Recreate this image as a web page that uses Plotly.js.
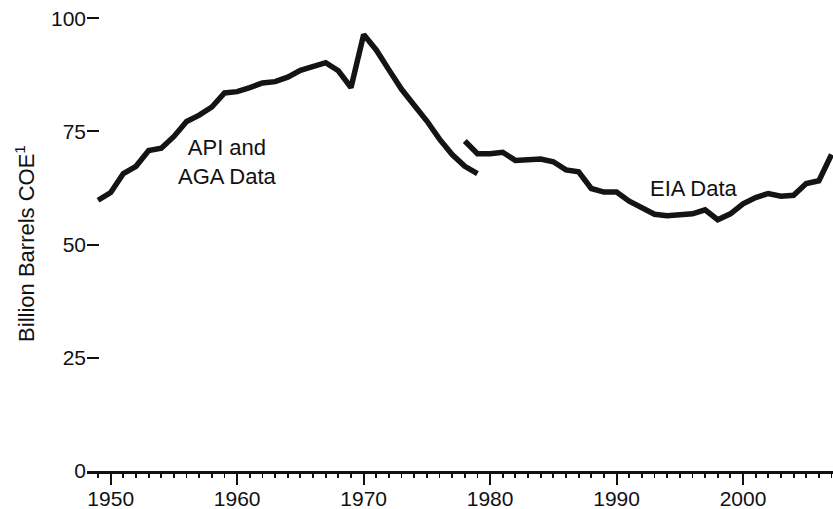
<!DOCTYPE html>
<html>
<head>
<meta charset="utf-8">
<script src="https://cdn.plot.ly/plotly-3.0.1.min.js"></script>
<style>
html,body{margin:0;padding:0;background:#fff;}
#chart{width:833px;height:509px;}
</style>
</head>
<body>
<div id="chart"></div>
<script>
// API and AGA data (billion barrels COE)
const apiYears = [1949,1950,1951,1952,1953,1954,1955,1956,1957,1958,1959,1960,1961,1962,1963,1964,1965,1966,1967,1968,1969,1970,1971,1972,1973,1974,1975,1976,1977,1978,1979];
const apiValues = [59.8,61.5,65.7,67.3,70.8,71.3,73.9,77.2,78.6,80.4,83.5,83.8,84.7,85.7,86.0,87.0,88.5,89.3,90.2,88.4,84.7,96.4,93.0,88.6,84.3,80.8,77.3,73.3,69.9,67.3,65.7];
// EIA data
const eiaYears = [1978,1979,1980,1981,1982,1983,1984,1985,1986,1987,1988,1989,1990,1991,1992,1993,1994,1995,1996,1997,1998,1999,2000,2001,2002,2003,2004,2005,2006,2007];
const eiaValues = [72.9,70.1,70.1,70.4,68.6,68.9,68.9,68.3,66.5,66.1,62.4,61.6,61.6,59.6,58.3,56.7,56.4,56.6,56.8,57.7,55.5,56.8,59.0,60.4,61.3,60.7,60.9,63.5,64.1,69.9];
const yTicks = [0,25,50,75,100];
const yTickText = ['0','25','50','75','100'];
const xTicks = [1950,1960,1970,1980,1990,2000];
const xTickText = ['1950','1960','1970','1980','1990','2000'];

const FONT = 'Liberation Sans, Arial, Helvetica, sans-serif';
const lineStyle = {color:'#141414', width:5.5, shape:'linear'};

const traces = [
  {x: apiYears, y: apiValues, mode:'lines', line: lineStyle, name:'API and AGA Data', hoverinfo:'x+y'},
  {x: eiaYears, y: eiaValues, mode:'lines', line: lineStyle, name:'EIA Data', hoverinfo:'x+y'}
];

const layout = {
  width: 833, height: 509,
  margin: {l:87, r:0, t:16.24, b:38, pad:0},
  paper_bgcolor:'#ffffff', plot_bgcolor:'#ffffff',
  showlegend:false,
  font:{family:FONT, size:22, color:'#111'},
  xaxis:{
    range:[1948.125, 2007.115],
    tickmode:'array', tickvals:xTicks, ticktext:xTickText,
    ticks:'outside', ticklen:11, tickwidth:2, tickcolor:'#111',
    showline:true, linewidth:2.5, linecolor:'#111',
    showgrid:false, zeroline:false,
    ticklabelstandoff:-4,
    tickfont:{family:FONT, size:21, color:'#111'},
    minor:{dtick:1, tick0:1950, ticks:'outside', ticklen:4.5, tickwidth:1.8, tickcolor:'#111', showgrid:false}
  },
  yaxis:{
    range:[0,100.5],
    tickmode:'array', tickvals:yTicks, ticktext:yTickText,
    ticks:'inside', ticklen:12, tickwidth:2, tickcolor:'#111',
    showline:false, showgrid:false, zeroline:false,
    tickfont:{family:FONT, size:21, color:'#111'},
    title:{text:'Billion Barrels COE<sup>1</sup>', font:{family:FONT, size:22, color:'#111'}, standoff:10}
  },
  annotations:[
    {x:1959.2, y:68.2, xref:'x', yref:'y', text:'API and<br>AGA Data', showarrow:false, align:'center',
     font:{family:FONT, size:22, color:'#111'}},
    {x:1996.14, y:62.3, xref:'x', yref:'y', text:'EIA Data', showarrow:false, align:'center',
     font:{family:FONT, size:22, color:'#111'}}
  ]
};

Plotly.newPlot('chart', traces, layout, {displayModeBar:false, staticPlot:true});
</script>
</body>
</html>
